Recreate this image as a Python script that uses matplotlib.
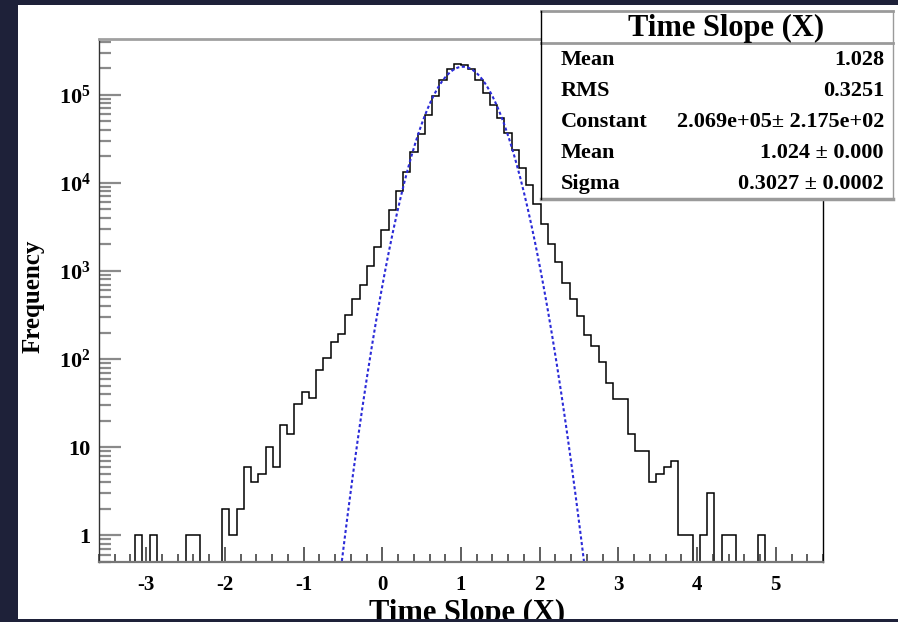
"""Time Slope (X) histogram with gaussian fit, ROOT-style, log y."""
import numpy as np
import matplotlib
matplotlib.use('Agg')
import matplotlib.pyplot as plt
from matplotlib.patches import Rectangle
from matplotlib.lines import Line2D
from matplotlib.ticker import FixedLocator, LogLocator, MultipleLocator, FuncFormatter, NullFormatter

plt.rcParams['font.family'] = ['Liberation Serif', 'DejaVu Serif']
plt.rcParams['font.weight'] = 'bold'
plt.rcParams['axes.unicode_minus'] = False
plt.rcParams['mathtext.fontset'] = 'custom'
plt.rcParams['mathtext.rm'] = 'Liberation Serif:bold'
plt.rcParams['mathtext.bf'] = 'Liberation Serif:bold'
plt.rcParams['mathtext.it'] = 'Liberation Serif:bold:italic'

# --- data ---
x_lo, x_hi, n_bins = -3.6, 5.6, 100
y_lo, y_hi = 0.5, 4.27e5
counts = [0, 0, 0, 0, 0, 1, 0, 1, 0, 0,
          0, 0, 1, 1, 0, 0, 0, 2, 1, 2,
          6, 4, 5, 10, 6, 18, 14, 31, 42, 36,
          75, 103, 157, 194, 320, 486, 701, 1130, 1876, 2950,
          4870, 8010, 13300, 22200, 35800, 58200, 95700, 148000, 195000, 225000,
          219000, 195000, 148000, 105000, 77000, 54400, 36800, 23800, 14800, 9370,
          5700, 3400, 2045, 1256, 733, 483, 312, 190, 140, 92,
          54, 35, 35, 14, 9, 9, 4, 5, 6, 7,
          1, 1, 0, 1, 3, 0, 1, 1, 0, 0,
          0, 1, 0, 0, 0, 0, 0, 0, 0, 0]
fit_const, fit_mean, fit_sigma = 2.069e5, 1.024, 0.3027

stats_title = 'Time Slope (X)'
stats_names = ['Mean', 'RMS', 'Constant', 'Mean', 'Sigma']
stats_vals = ['1.028', '0.3251', '2.069e+05± 2.175e+02', '1.024 ± 0.000', '0.3027 ± 0.0002']

W, H = 898, 622
DARK = '#1e2139'
fx = lambda px: px / W
fy = lambda py: 1 - py / H

fig = plt.figure(figsize=(W / 100, H / 100), dpi=100)
fig.patch.set_facecolor(DARK)
fig.add_artist(Rectangle((fx(18), fy(619)), fx(880), 614 / H, transform=fig.transFigure,
                         facecolor='white', edgecolor='none', zorder=-1))

ax = fig.add_axes([fx(99), fy(562), fx(724), 523 / H])
edges = np.linspace(x_lo, x_hi, n_bins + 1)
ax.stairs(np.maximum(np.array(counts, float), y_lo), edges, color='black', lw=1.1, baseline=None)

xf = np.linspace(x_lo, x_hi, 3000)
yf = fit_const * np.exp(-0.5 * ((xf - fit_mean) / fit_sigma) ** 2)
m = yf >= y_lo
ax.plot(xf[m], yf[m], color='#2a2ad8', lw=1.5, ls=(0, (1.5, 1.2)))

ax.set_yscale('log')
ax.set_xlim(x_lo, x_hi); ax.set_ylim(y_lo, y_hi)
ax.yaxis.set_major_locator(FixedLocator([1, 10, 1e2, 1e3, 1e4, 1e5]))
ax.yaxis.set_minor_locator(LogLocator(base=10, subs=np.arange(2, 10)))
ax.yaxis.set_minor_formatter(NullFormatter())

def yfmt(v, pos):
    e = int(round(np.log10(v)))
    if e == 0: return '1'
    if e == 1: return '10'
    return r'$\mathbf{10^{%d}}$' % e
ax.yaxis.set_major_formatter(FuncFormatter(yfmt))
ax.xaxis.set_major_locator(MultipleLocator(1))
ax.xaxis.set_minor_locator(MultipleLocator(0.2))

ax.tick_params(axis='y', which='major', direction='in', length=16, width=1.6, color='#8a8a8a',
               labelsize=16, pad=6, right=False)
ax.tick_params(axis='y', which='minor', direction='in', length=8.5, width=1.6, color='#8a8a8a', right=False)
ax.tick_params(axis='x', which='major', direction='in', length=11, width=1.1, color='#333333',
               labelsize=15, pad=9, top=False)
ax.tick_params(axis='x', which='minor', direction='in', length=5.5, width=1.1, color='#333333', top=False)

ax.spines['left'].set_color('#333333'); ax.spines['left'].set_linewidth(1.0)
ax.spines['bottom'].set_color('#777777'); ax.spines['bottom'].set_linewidth(1.6)
ax.spines['top'].set_color('#a0a0a0'); ax.spines['top'].set_linewidth(2.0)
ax.spines['right'].set_color('black'); ax.spines['right'].set_linewidth(1.0)

# axis titles (the x title is cropped by the slide edge, as in the screenshot)
fig.text(fx(467), fy(621), 'Time Slope (X)', fontsize=22, ha='center', va='baseline')
fig.text(fx(33), fy(296), 'Frequency', fontsize=18, rotation=90, ha='center', va='center')

# stats box
bl, br, bt, bs, bb = 541, 893, 11, 43, 199
fig.add_artist(Rectangle((fx(bl), fy(bb)), fx(br - bl), (bb - bt) / H, transform=fig.transFigure,
                         facecolor='white', edgecolor='none', zorder=5))
for (x0, y0, x1, y1, c, lw) in [(bl, bt, br, bt, '#9a9a9a', 2), (bl, bs, br, bs, '#9a9a9a', 2),
                                (bl, bb, br, bb, '#9a9a9a', 2.5), (bl, bt, bl, bb, 'black', 1),
                                (br, bt, br, bb, '#9a9a9a', 1)]:
    fig.add_artist(Line2D([fx(x0), fx(x1)], [fy(y0), fy(y1)], transform=fig.transFigure,
                          color=c, lw=lw, zorder=6))
fig.text(fx(726), fy(28), stats_title, fontsize=22, ha='center', va='center', zorder=7)
for i, (nm, vl) in enumerate(zip(stats_names, stats_vals)):
    yy = fy(60 + i * 31)
    fig.text(fx(561), yy, nm, fontsize=16, ha='left', va='center', zorder=7)
    fig.text(fx(884), yy, vl, fontsize=16, ha='right', va='center', zorder=7)

# dark strips that crop the slide
fig.add_artist(Rectangle((0, 0), 1, 3 / H, transform=fig.transFigure, facecolor=DARK,
                         edgecolor='none', zorder=100))
fig.add_artist(Rectangle((0, fy(5)), 1, 5 / H, transform=fig.transFigure, facecolor=DARK,
                         edgecolor='none', zorder=100))

fig.savefig('out.png', dpi=100, facecolor=fig.get_facecolor())
